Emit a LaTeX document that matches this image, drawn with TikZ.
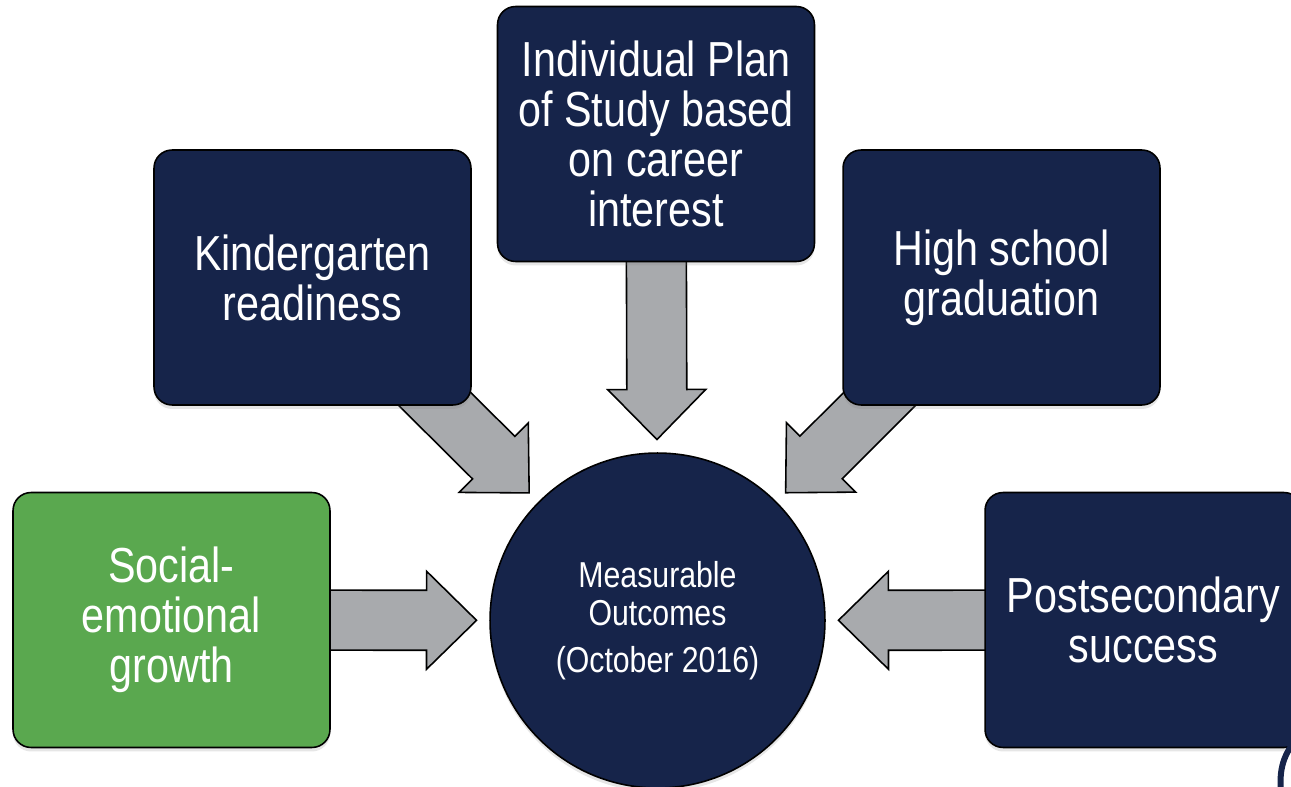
\documentclass[tikz,border=0pt]{standalone}
\usepackage{fontspec}
\setmainfont{Liberation Sans}[FakeStretch=0.84]
\usetikzlibrary{calc,shadows,backgrounds}
\definecolor{navy}{HTML}{16244A}
\definecolor{leafgreen}{HTML}{5AA84F}
\definecolor{arrowgray}{HTML}{A8AAAD}

\begin{document}
\begin{tikzpicture}[x=0.02cm,y=-0.02cm,
    goal box/.style={rectangle,rounded corners=0.36cm,draw=black,line width=0.9pt,fill=navy,text=white,
      minimum width=6.34cm,minimum height=5.1cm,align=center,font=\fontsize{28}{28.5}\selectfont,
      drop shadow={opacity=0.2,shadow xshift=0pt,shadow yshift=-0.08cm}},
    fat arrow/.style={fill=arrowgray,draw=black,line width=0.9pt,line join=miter,
      to path={let \p1=($(\tikztotarget)!3.62cm!(\tikztostart)$),
                   \p2=($(\p1)!1cm!(\tikztostart)$) in
        ($(\tikztostart)!0.6cm!90:(\p1)$) -- ($(\p2)!0.6cm!-90:(\tikztostart)$)
        -- ($(\p2)!0.98cm!-90:(\tikztostart)$) -- (\p1)
        -- ($(\p2)!0.98cm!90:(\tikztostart)$) -- ($(\p2)!0.6cm!90:(\tikztostart)$)
        -- ($(\tikztostart)!0.6cm!-90:(\p1)$) -- cycle}}]

  \useasboundingbox (0,0) rectangle (1291,787);
  \clip (0,0) rectangle (1291,787);

  \node[circle,draw=black,line width=0.9pt,fill=navy,text=white,minimum size=6.7cm,align=center,
        font=\fontsize{20.5}{21.6}\selectfont,drop shadow={opacity=0.2,shadow xshift=0pt,shadow yshift=-0.08cm}]
        (out) at (657.5,620.5) {Measurable\\Outcomes\\[0.18cm](October 2016)};

  \node[goal box,fill=leafgreen] (soc) at (171.5,620) {Social-\\emotional\\growth};
  \node[goal box] (kin) at (312.5,277.5) {Kindergarten\\readiness};
  \node[goal box] (ips) at (656,134) {Individual Plan\\of Study based\\on career\\interest};
  \node[goal box] (hsg) at (1001.5,277.5) {High school\\graduation};
  \node[goal box] (pss) at (1143.5,620) {Postsecondary\\success};

  \begin{pgfonlayer}{background}
    \path[fat arrow] (soc) to (out);
    \path[fat arrow] (kin) to (out);
    \path[fat arrow] (ips) to (out);
    \path[fat arrow] (hsg) to (out);
    \path[fat arrow] (pss) to (out);
  \end{pgfonlayer}

  \draw[navy,line width=0.12cm] (1292,745) .. controls (1283,757) and (1279,772) .. (1281,792);

\end{tikzpicture}
\end{document}
